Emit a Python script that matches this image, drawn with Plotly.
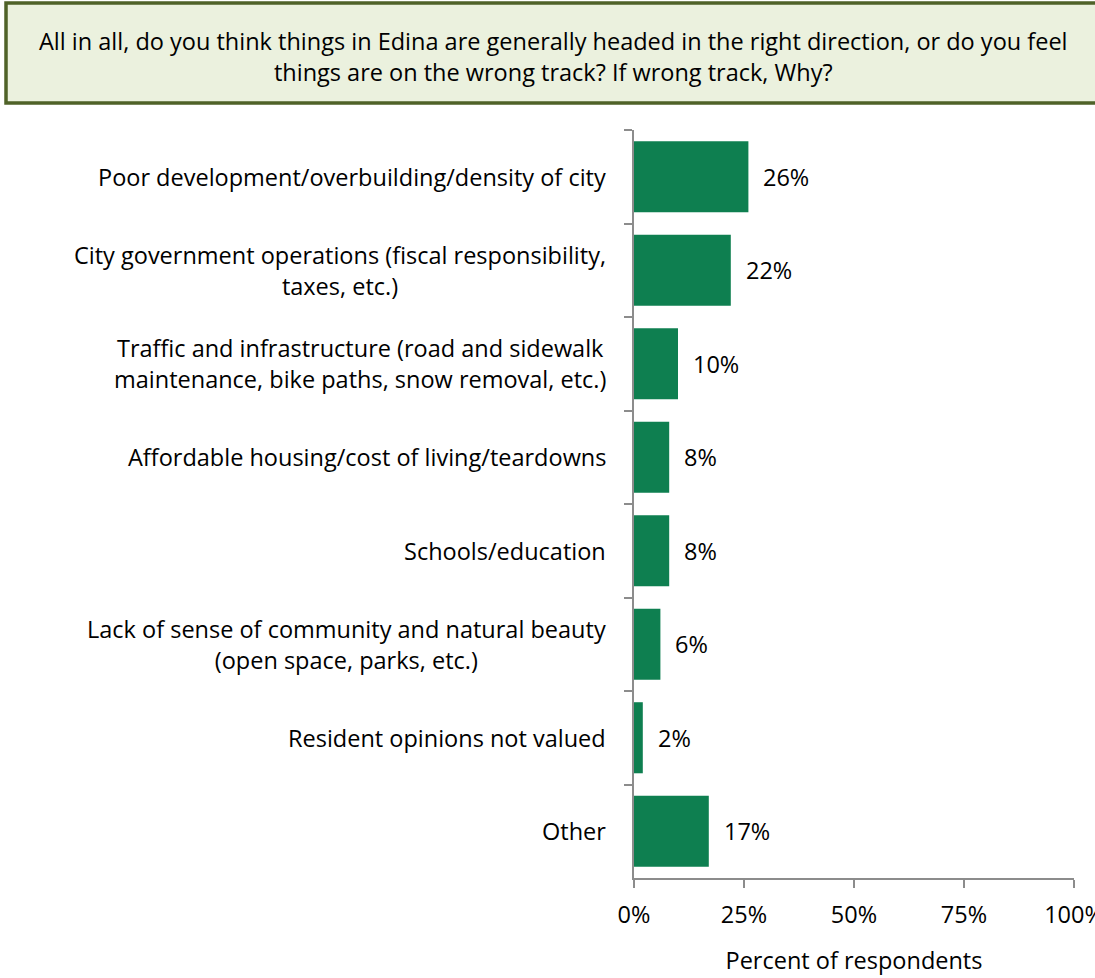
import plotly.graph_objects as go

# Survey reasons for "wrong track" responses
categories = [
    "Poor development/overbuilding/density of city",
    "City government operations (fiscal responsibility,<br>taxes, etc.)",
    "Traffic and infrastructure (road and sidewalk<br>maintenance, bike paths, snow removal, etc.)",
    "Affordable housing/cost of living/teardowns",
    "Schools/education",
    "Lack of sense of community and natural beauty<br>(open space, parks, etc.)",
    "Resident opinions not valued",
    "Other",
]
values = [26, 22, 10, 8, 8, 6, 2, 17]
tick_vals = [0, 25, 50, 75, 100]
tick_text = ["0%", "25%", "50%", "75%", "100%"]
question = ("All in all, do you think things in Edina are generally headed in the right direction, or do you feel"
            "<br>things are on the wrong track? If wrong track, Why?")

W, H = 1095, 978
ML, MR, MT, MB = 634, 21, 130, 100
PW, PH = W - ML - MR, H - MT - MB

FONT = "'Open Sans', Lato, sans-serif"
FS = 23.5
BAR = "#0E7F50"
AXIS = "#8C8C8C"


def px_x(px):
    return (px - ML) / PW


def px_y(py):
    return (H - MB - py) / PH


fig = go.Figure(
    go.Bar(
        x=values,
        y=categories,
        orientation="h",
        marker=dict(color=BAR, line=dict(width=0)),
        hoverinfo="skip",
    )
)

annotations = []
for cat, v in zip(categories, values):
    annotations.append(dict(
        x=v, y=cat, xref="x", yref="y", text=f"{v}%", showarrow=False,
        xanchor="left", xshift=13, font=dict(family=FONT, size=FS, color="#000"),
    ))
    annotations.append(dict(
        x=px_x(608), y=cat, xref="paper", yref="y", text=cat, showarrow=False,
        xanchor="right", align="center", font=dict(family=FONT, size=FS, color="#000"),
    ))

annotations.append(dict(
    x=px_x(553), y=px_y(57), xref="paper", yref="paper", text=question,
    showarrow=False, xanchor="center", yanchor="middle", align="center",
    font=dict(family=FONT, size=FS, color="#000"),
))

shapes = [dict(
    type="rect", xref="paper", yref="paper",
    x0=px_x(6), x1=px_x(1120), y0=px_y(103), y1=px_y(3),
    fillcolor="#EBF1DE", line=dict(color="#4F6228", width=3.5), layer="below",
)]

fig.update_layout(
    width=W, height=H,
    margin=dict(l=ML, r=MR, t=MT, b=MB, pad=0, autoexpand=False),
    paper_bgcolor="white", plot_bgcolor="white",
    bargap=0.24, showlegend=False,
    annotations=annotations, shapes=shapes,
    font=dict(family=FONT, size=FS, color="#000"),
)

fig.update_yaxes(
    type="category", autorange="reversed", tickson="boundaries", automargin=False,
    ticks="outside", ticklen=8, tickcolor=AXIS, tickwidth=1.5,
    showticklabels=False, showline=True, linecolor=AXIS, linewidth=1.5,
    showgrid=False, zeroline=False,
)
fig.update_xaxes(
    range=[0, 100], tickvals=tick_vals, ticktext=tick_text, automargin=False,
    ticks="outside", ticklen=8, tickcolor=AXIS, tickwidth=1.5,
    showline=True, linecolor=AXIS, linewidth=1.5, showgrid=False, zeroline=False,
    ticklabelstandoff=7, ticklabeloverflow="allow",
    tickfont=dict(family=FONT, size=FS, color="#000"),
    title=dict(text="Percent of respondents", standoff=24,
               font=dict(family=FONT, size=FS, color="#000")),
)

fig.write_html("out.html")
